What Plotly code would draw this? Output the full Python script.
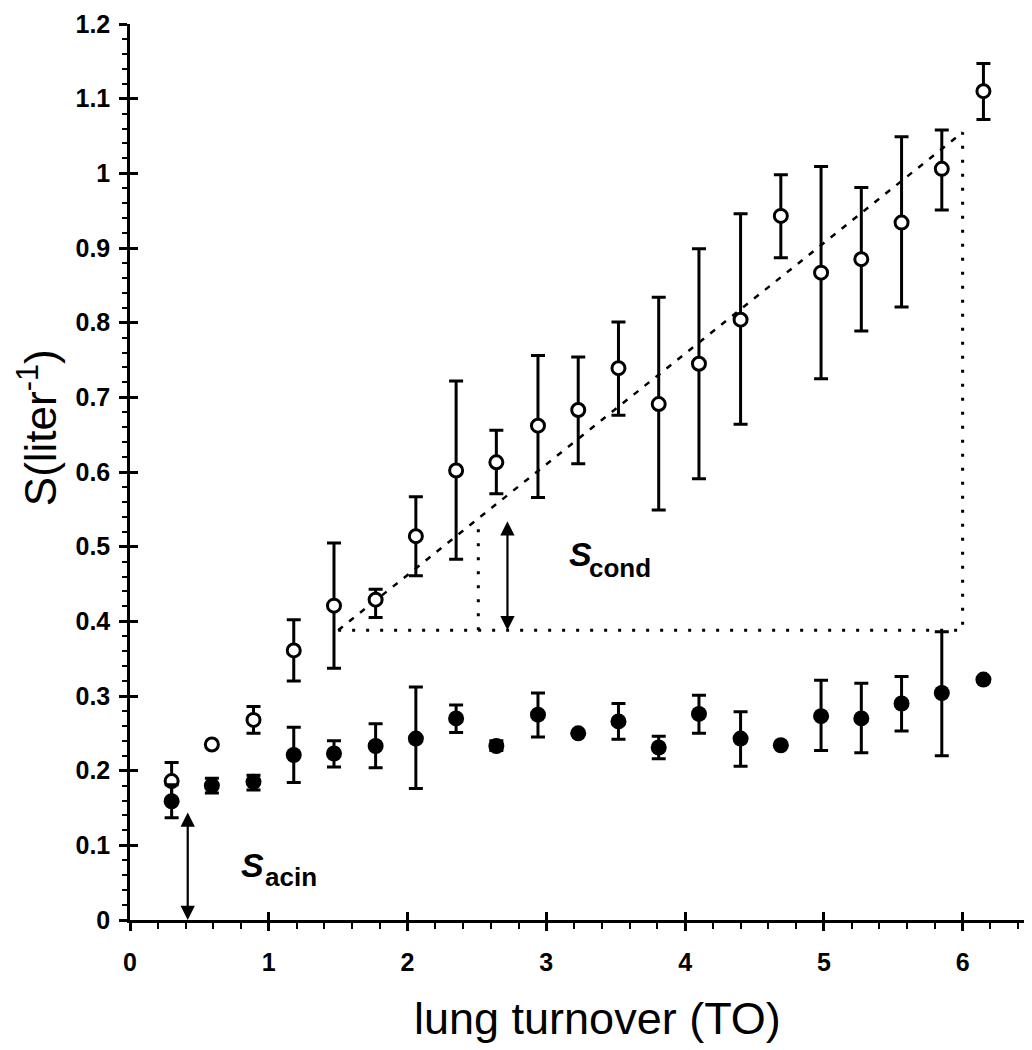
import plotly.graph_objects as go

# lung turnover (TO) values, shared by both series
to = [0.30, 0.59, 0.89, 1.18, 1.47, 1.77, 2.06, 2.35, 2.64, 2.94, 3.23,
      3.52, 3.81, 4.10, 4.40, 4.69, 4.98, 5.27, 5.56, 5.85, 6.15]

# open circles: mean, upper and lower end of the error bar
s_open = [0.186, 0.235, 0.268, 0.361, 0.421, 0.429, 0.514, 0.602, 0.613, 0.662, 0.683,
          0.739, 0.691, 0.745, 0.804, 0.943, 0.867, 0.885, 0.934, 1.006, 1.110]
open_hi = [0.211, 0.235, 0.286, 0.402, 0.505, 0.443, 0.567, 0.722, 0.656, 0.756, 0.754,
           0.801, 0.834, 0.899, 0.946, 0.998, 1.009, 0.981, 1.049, 1.058, 1.147]
open_lo = [0.161, 0.235, 0.250, 0.320, 0.337, 0.405, 0.461, 0.483, 0.571, 0.566, 0.611,
           0.676, 0.549, 0.591, 0.664, 0.887, 0.725, 0.789, 0.821, 0.951, 1.072]

# filled circles
s_fill = [0.159, 0.180, 0.185, 0.221, 0.223, 0.233, 0.243, 0.270, 0.233, 0.275, 0.250,
          0.266, 0.231, 0.276, 0.243, 0.234, 0.273, 0.270, 0.290, 0.304, 0.322]
fill_hi = [0.181, 0.190, 0.194, 0.258, 0.240, 0.263, 0.312, 0.288, 0.240, 0.304, 0.250,
           0.290, 0.246, 0.301, 0.279, 0.234, 0.321, 0.317, 0.326, 0.386, 0.322]
fill_lo = [0.137, 0.170, 0.174, 0.184, 0.205, 0.204, 0.176, 0.251, 0.227, 0.245, 0.250,
           0.242, 0.216, 0.250, 0.206, 0.234, 0.227, 0.224, 0.253, 0.220, 0.322]

# regression line and the S_cond construction
fit_x = [1.50, 6.00]
fit_y = [0.388, 1.055]
box_x = [1.50, 6.00, 6.00]
box_y = [0.388, 0.388, 1.055]
drop_x = [2.51, 2.51]
drop_y = [0.388, 0.538]
cond_arrow = (2.72, 0.388, 0.536)
acin_arrow = (0.416, 0.0, 0.146)

fnt = "Liberation Sans, Arial, Helvetica, sans-serif"
y_ticks = [0, 0.1, 0.2, 0.3, 0.4, 0.5, 0.6, 0.7, 0.8, 0.9, 1, 1.1, 1.2]
y_labels = ["0", "0.1", "0.2", "0.3", "0.4", "0.5", "0.6", "0.7", "0.8", "0.9", "1", "1.1", "1.2"]
x_ticks = [0, 1, 2, 3, 4, 5, 6]

fig = go.Figure()

fig.add_trace(go.Scatter(x=fit_x, y=fit_y, mode="lines",
                         line=dict(color="black", width=2.5, dash="6px,8px")))
fig.add_trace(go.Scatter(x=box_x, y=box_y, mode="lines",
                         line=dict(color="black", width=3, dash="3px,11px")))
fig.add_trace(go.Scatter(x=drop_x, y=drop_y, mode="lines",
                         line=dict(color="black", width=3, dash="3px,11px")))

fig.add_trace(go.Scatter(
    x=to, y=s_open, mode="markers",
    marker=dict(symbol="circle", size=13, color="white", line=dict(color="black", width=3)),
    error_y=dict(type="data", symmetric=False,
                 array=[h - m for h, m in zip(open_hi, s_open)],
                 arrayminus=[m - l for m, l in zip(s_open, open_lo)],
                 color="black", thickness=3, width=7)))

fig.add_trace(go.Scatter(
    x=to, y=s_fill, mode="markers",
    marker=dict(symbol="circle", size=16, color="black", line=dict(width=0)),
    error_y=dict(type="data", symmetric=False,
                 array=[h - m for h, m in zip(fill_hi, s_fill)],
                 arrayminus=[m - l for m, l in zip(s_fill, fill_lo)],
                 color="black", thickness=3, width=7)))

# empty trace so the overlay axes (inner half of the crossing ticks) get drawn
fig.add_trace(go.Scatter(x=[], y=[], xaxis="x2", yaxis="y2"))

# double arrows
for ax_x, y0, y1 in [cond_arrow, acin_arrow]:
    fig.add_annotation(x=ax_x, y=y0, ax=ax_x, ay=y1, xref="x", yref="y", axref="x", ayref="y",
                       text="", showarrow=True, arrowhead=2, arrowsize=1.3, arrowwidth=2.2,
                       arrowside="end+start", arrowcolor="black")

# S_cond / S_acin labels
fig.add_annotation(x=3.245, y=0.49, text="<b><i>S</i></b>", showarrow=False,
                   font=dict(family=fnt, size=34, color="black"))
fig.add_annotation(x=3.53, y=0.472, text="<b>cond</b>", showarrow=False,
                   font=dict(family=fnt, size=26, color="black"))
fig.add_annotation(x=0.883, y=0.073, text="<b><i>S</i></b>", showarrow=False,
                   font=dict(family=fnt, size=34, color="black"))
fig.add_annotation(x=1.16, y=0.057, text="<b>acin</b>", showarrow=False,
                   font=dict(family=fnt, size=26, color="black"))

# axis titles
fig.add_annotation(x=0.518, y=-0.11, xref="paper", yref="paper", text="lung turnover (TO)",
                   xanchor="center", yanchor="middle",
                   showarrow=False, font=dict(family=fnt, size=45, color="black"))
fig.add_annotation(x=-0.103, y=0.549, xref="paper", yref="paper", text="S(liter<sup>-1</sup>)",
                   xanchor="center", yanchor="middle", textangle=-90,
                   showarrow=False, font=dict(family=fnt, size=44, color="black"))

tickfont = dict(family=fnt, size=25, color="black", weight="bold")

# the page has an 8px body margin, so the margins are set 8px smaller on the left
fig.update_layout(
    width=1032, height=1050,
    margin=dict(l=122, r=8, t=16, b=138),
    plot_bgcolor="white", paper_bgcolor="white",
    showlegend=False,
    xaxis=dict(range=[0, 6.5], tickvals=x_ticks, showgrid=False, zeroline=False,
               showline=True, linecolor="black", linewidth=2.5, automargin=False,
               ticks="outside", ticklen=8, tickwidth=2.5, tickcolor="black",
               tickfont=tickfont, ticklabelstandoff=10, ticklabeloverflow="allow",
               minor=dict(dtick=0.2, ticks="outside", ticklen=6, tickwidth=2, tickcolor="black")),
    yaxis=dict(range=[0, 1.2], tickvals=y_ticks, ticktext=y_labels,
               showgrid=False, zeroline=False, automargin=False,
               showline=True, linecolor="black", linewidth=2.5,
               ticks="outside", ticklen=8, tickwidth=2.5, tickcolor="black",
               tickfont=tickfont, ticklabelstandoff=4, ticklabeloverflow="allow",
               minor=dict(dtick=0.02, ticks="outside", ticklen=5, tickwidth=2, tickcolor="black")),
    xaxis2=dict(range=[0, 6.5], overlaying="x", anchor="y2", side="bottom", automargin=False,
                tickvals=x_ticks, showticklabels=False, showgrid=False, zeroline=False,
                ticks="inside", ticklen=8, tickwidth=2.5, tickcolor="black"),
    yaxis2=dict(range=[0, 1.2], overlaying="y", anchor="x2", side="left", automargin=False,
                tickvals=y_ticks, showticklabels=False, showgrid=False, zeroline=False,
                ticks="inside", ticklen=8, tickwidth=2.5, tickcolor="black"),
)

fig.write_html("out.html")
